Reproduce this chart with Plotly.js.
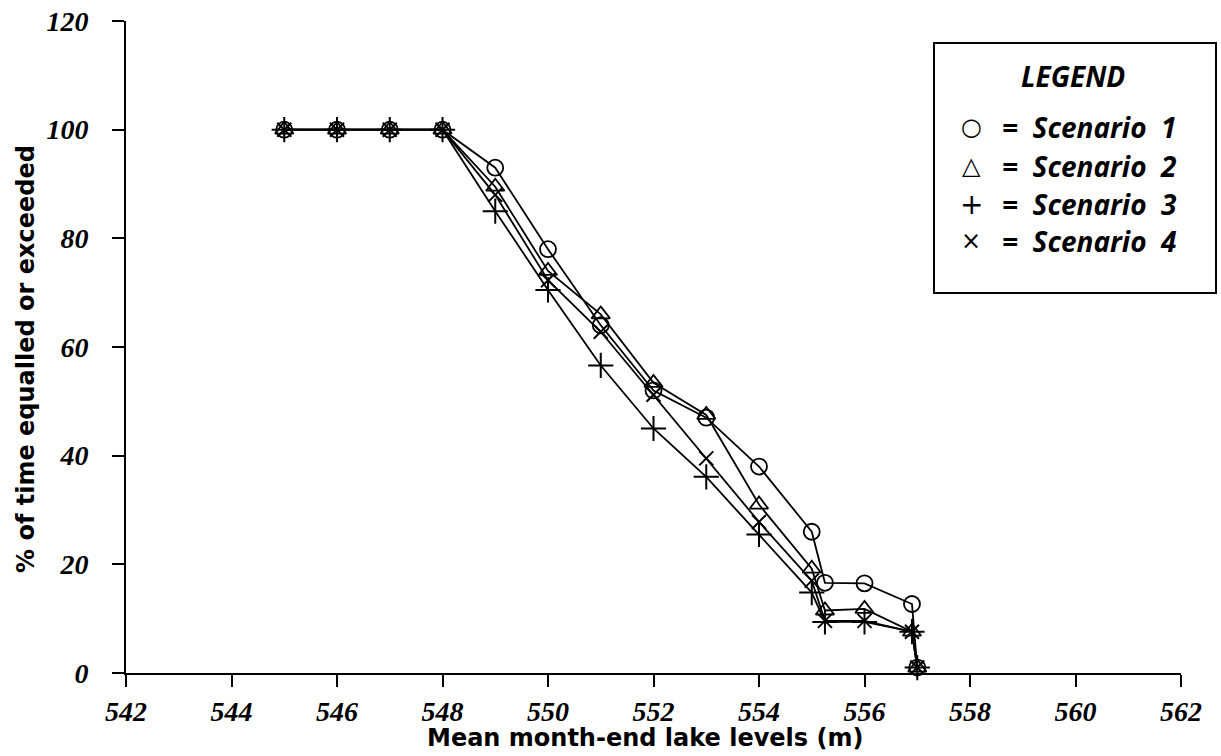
<!DOCTYPE html>
<html>
<head>
<meta charset="utf-8">
<script src="https://cdn.plot.ly/plotly-3.0.1.min.js"></script>
<style>
  html, body { margin: 0; padding: 0; background: #fff; }
  #chart { width: 1221px; height: 756px; }
</style>
</head>
<body>
<div id="chart"></div>
<script>
// ---- data ----
const lakeLevels = [545, 546, 547, 548, 549, 550, 551, 552, 553, 554, 555, 555.25, 556, 556.9, 557];
const scenario1 = [100, 100, 100, 100, 93, 78, 64, 52, 47, 38, 26, 16.6, 16.5, 12.7, 1];
const scenario2 = [100, 100, 100, 100, 89.5, 74, 66, 53.4, 47.5, 31, 19.2, 11.5, 11.8, 7.6, 1];
const scenario3 = [100, 100, 100, 100, 85, 70.5, 56.6, 45, 36.1, 25.5, 14.8, 9.4, 9.4, 7.6, 1];
const scenario4 = [100, 100, 100, 100, 88, 72.3, 62.8, 51.2, 39.5, 27.8, 17, 9.6, 9.6, 7.6, 1];
const seriesNames = ['Scenario 1', 'Scenario 2', 'Scenario 3', 'Scenario 4'];
const legendSymbols = ['○', '△', '+', '×'];
const xTicks = [542, 544, 546, 548, 550, 552, 554, 556, 558, 560, 562];
const yTicks = [0, 20, 40, 60, 80, 100, 120];

// ---- styling ----
const W = 1221, H = 756;
const M = { l: 126, r: 40, t: 21, b: 83 };
const pw = W - M.l - M.r, ph = H - M.t - M.b;
const px2x = p => (p - M.l) / pw;
const py2y = p => 1 - (p - M.t) / ph;

const tickFont = { family: 'Liberation Serif, Times New Roman, serif', size: 28, color: '#000', weight: 700, style: 'italic' };
const titleFont = { family: 'DejaVu Sans, Arial, sans-serif', size: 24, color: '#000', weight: 700 };
const legFont = { family: 'Open Sans, Lato, sans-serif', size: 28, color: '#000', weight: 700, style: 'italic' };
const legRowFont = Object.assign({}, legFont, { size: 28 });

const markerDefs = [
  { symbol: 'circle-open', size: 16, line: { width: 1.8, color: '#000' } },
  { symbol: 'triangle-up-open', size: 16, line: { width: 1.8, color: '#000' } },
  { symbol: 'cross-thin-open', size: 18, line: { width: 2, color: '#000' } },
  { symbol: 'x-thin-open', size: 14, line: { width: 2, color: '#000' } }
];
const allSeries = [scenario1, scenario2, scenario3, scenario4];

const traces = allSeries.map((ys, i) => ({
  type: 'scatter',
  mode: 'lines+markers',
  name: seriesNames[i],
  x: lakeLevels,
  y: ys,
  line: { color: '#000', width: 1.8 },
  marker: Object.assign({ color: '#000' }, markerDefs[i]),
  cliponaxis: false,
  showlegend: false
}));

// legend (drawn as a box with text) and axis titles
const rowY = [127, 166, 204, 241];
const annotations = [
  { text: 'LEGEND', x: px2x(1073), y: py2y(76), xref: 'paper', yref: 'paper',
    showarrow: false, xanchor: 'center', yanchor: 'middle', font: legFont },
  { text: 'Mean month-end lake levels (m)', x: px2x(645), y: py2y(738), xref: 'paper', yref: 'paper',
    showarrow: false, xanchor: 'center', yanchor: 'middle', font: titleFont },
  { text: '% of time equalled or exceeded', x: px2x(26), y: py2y(359), xref: 'paper', yref: 'paper',
    showarrow: false, xanchor: 'center', yanchor: 'middle', textangle: -90, font: titleFont }
];
seriesNames.forEach((n, i) => {
  annotations.push({
    text: legendSymbols[i], x: px2x(971), y: py2y(rowY[i]), xref: 'paper', yref: 'paper',
    showarrow: false, xanchor: 'center', yanchor: 'middle',
    font: { family: 'DejaVu Sans, sans-serif', size: i === 2 ? 28 : 24, color: '#000' }
  });
  annotations.push({
    text: '=  ' + n.replace(' ', '  '), x: px2x(1000), y: py2y(rowY[i]), xref: 'paper', yref: 'paper',
    showarrow: false, xanchor: 'left', yanchor: 'middle', font: legRowFont
  });
});

const layout = {
  width: W, height: H,
  margin: M,
  paper_bgcolor: '#fff', plot_bgcolor: '#fff',
  showlegend: false,
  xaxis: {
    range: [542, 562], tickvals: xTicks, ticktext: xTicks.map(String),
    showline: true, linecolor: '#000', linewidth: 2,
    ticks: 'outside', ticklen: 12, tickwidth: 2, tickcolor: '#000',
    showgrid: false, zeroline: false, tickfont: tickFont, ticklabelstandoff: 0
  },
  yaxis: {
    range: [0, 120], tickvals: yTicks, ticktext: yTicks.map(String),
    showline: true, linecolor: '#000', linewidth: 2,
    ticks: 'outside', ticklen: 12, tickwidth: 2, tickcolor: '#000',
    showgrid: false, zeroline: false, tickfont: tickFont, ticklabelstandoff: 18
  },
  shapes: [
    { type: 'rect', xref: 'paper', yref: 'paper',
      x0: px2x(934), x1: px2x(1216), y0: py2y(43), y1: py2y(293),
      line: { color: '#000', width: 2 }, fillcolor: 'rgba(0,0,0,0)' }
  ],
  annotations: annotations
};

Plotly.newPlot('chart', traces, layout, { displayModeBar: false, staticPlot: true });
</script>
</body>
</html>
